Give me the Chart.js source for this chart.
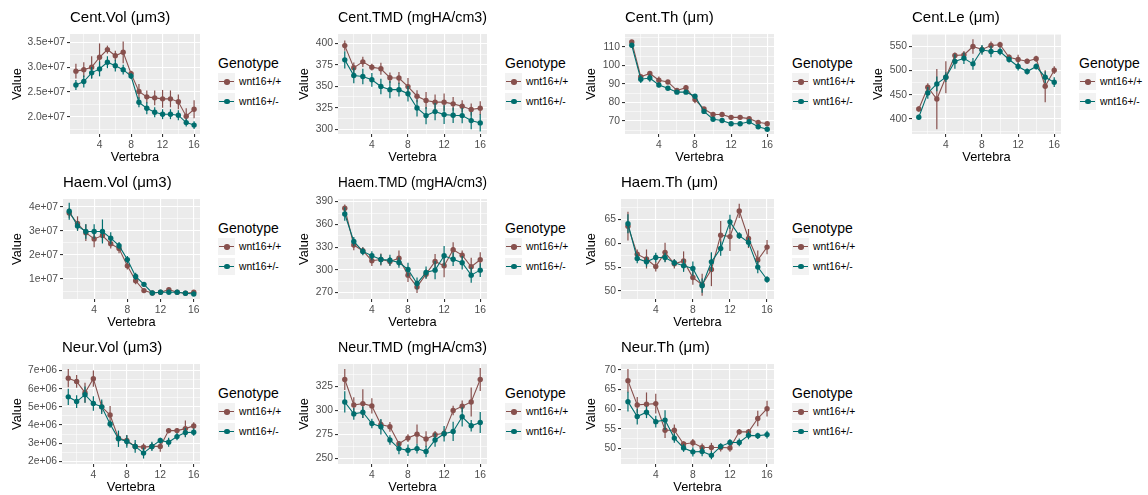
<!DOCTYPE html>
<html>
<head>
<meta charset="utf-8">
<script src="https://cdn.jsdelivr.net/npm/chart.js@4.4.1/dist/chart.umd.min.js"></script>
<style>
body{margin:0;background:#fff;width:1148px;height:495px;overflow:hidden;position:relative;font-family:"Liberation Sans",Arial,sans-serif;}
.panel{position:absolute;width:287px;height:165px;}
.panel canvas{position:absolute;left:0;top:0;}
.legend{position:absolute;left:218px;top:54px;}
.ltitle{font-size:14px;color:#000;height:18px;line-height:18px;}
.item{height:19.5px;display:flex;align-items:center;font-size:10.3px;color:#000;}
.key{position:relative;width:17px;height:17px;background:#F2F2F2;margin-right:4px;}
.key .ln{position:absolute;left:1px;right:1px;top:8px;height:1.1px;}
.key .dot{position:absolute;left:6px;top:6px;width:5.5px;height:5.5px;border-radius:50%;}
</style>
</head>
<body>
<script>
/* ================= DATA ================= */

const vertebra = [1,2,3,4,5,6,7,8,9,10,11,12,13,14,15,16];
const genotypes = ["wnt16+/+","wnt16+/-"];
const genoColors = ["#87504D","#006E6E"];

// Cent.Vol
const centVolWt = [2.92e7,2.95e7,3.0e7,3.2e7,3.355e7,3.23e7,3.30e7,2.87e7,2.51e7,2.40e7,2.38e7,2.36e7,2.36e7,2.30e7,2.01e7,2.15e7];
const centVolWtSe = [0.15e7,0.15e7,0.22e7,0.28e7,0.08e7,0.10e7,0.22e7,0.06e7,0.15e7,0.13e7,0.15e7,0.18e7,0.17e7,0.15e7,0.16e7,0.18e7];
const centVolHet = [2.64e7,2.71e7,2.885e7,2.965e7,3.10e7,3.03e7,2.95e7,2.82e7,2.29e7,2.17e7,2.09e7,2.05e7,2.05e7,2.03e7,1.88e7,1.83e7];
const centVolHetSe = [0.10e7,0.12e7,0.12e7,0.15e7,0.12e7,0.12e7,0.10e7,0.06e7,0.10e7,0.12e7,0.10e7,0.10e7,0.10e7,0.10e7,0.08e7,0.08e7];
const centVolTicks = [2.0e7,2.5e7,3.0e7,3.5e7];

// Cent.TMD
const centTmdWt = [397.3,371.5,378.4,372.2,370.3,359.9,359.5,349.6,338.4,333.4,331.5,331.5,329.5,326.8,323,324.5];
const centTmdWtSe = [6,6,6,4,7,6,7,10,7,10,9,10,8,7,7,8];
const centTmdHet = [380.7,362.5,361.4,357.5,349.8,346,346,341.3,324.7,315.8,320.5,317,316.2,315.8,310,307.3];
const centTmdHetSe = [10,9,9,8,9,10,8,9,10,10,10,11,9,9,10,10];
const centTmdTicks = [300,325,350,375,400];

// Cent.Th
const centThWt = [112.7,93.9,95.7,92,91.1,86.5,88,81.6,76.5,73.5,73.5,72,72,71.3,69.3,68.5];
const centThWtSe = [1,1,1,2,1,1,1.5,2,1,1,1,1,1,1,1,1];
const centThHet = [110.9,92.6,93.2,89.5,87.7,85.6,85.6,83.4,75.2,71,70.3,68.5,68.5,69.6,66.9,65.6];
const centThHetSe = [1,2,2,1.2,1,1,1,1,1,1,1,1,1,1,1,1];
const centThTicks = [70,80,90,100,110];

// Cent.Le
const centLeWt = [420.6,465.3,441,486,530.7,532,549.3,543,551.4,552.8,527,522.5,519,524,467.4,500.5];
const centLeWtSe = [5,8,62,33,6,8,15,8,8,6,6,10,5,6,33,8];
const centLeHet = [403.4,453.6,472.2,486,518.3,525,513.5,542.4,539,539,522.5,508,497.7,508,486,475.7];
const centLeHetSe = [5,12,15,10,15,12,12,10,12,8,6,8,6,6,12,10];
const centLeTicks = [400,450,500,550];

// Haem.Vol
const haemVolWt = [3.75e7,3.31e7,2.93e7,2.67e7,2.81e7,2.47e7,2.27e7,1.55e7,0.93e7,0.52e7,0.42e7,0.45e7,0.56e7,0.45e7,0.41e7,0.45e7];
const haemVolWtSe = [0.2e7,0.3e7,0.35e7,0.35e7,0.25e7,0.2e7,0.2e7,0.15e7,0.15e7,0.05e7,0.05e7,0.05e7,0.05e7,0.05e7,0.05e7,0.05e7];
const haemVolHet = [3.82e7,3.21e7,2.98e7,2.98e7,2.98e7,2.70e7,2.39e7,1.81e7,1.11e7,0.78e7,0.42e7,0.45e7,0.45e7,0.45e7,0.41e7,0.38e7];
const haemVolHetSe = [0.35e7,0.2e7,0.3e7,0.3e7,0.5e7,0.25e7,0.15e7,0.15e7,0.15e7,0.1e7,0.05e7,0.05e7,0.05e7,0.05e7,0.05e7,0.05e7];
const haemVolTicks = [1e7,2e7,3e7,4e7];

// Haem.TMD
const haemTmdWt = [381.2,332.7,325.2,312,313.7,311,315.4,293,277.5,294.3,311,305.3,326.5,319.4,304,313.3];
const haemTmdWtSe = [5,7,5,7,8,6,10,9,8,6,10,15,10,6,12,10];
const haemTmdHet = [373.7,337.5,324.3,318.5,313.7,312.8,309.7,300.5,282,296.5,299.6,318.5,314,309.3,293,299.6];
const haemTmdHetSe = [9,6,5,6,7,7,7,9,8,8,12,13,9,9,10,9];
const haemTmdTicks = [270,300,330,360,390];

// Haem.Th
const haemThWt = [63.6,57.7,56.7,55.1,58.1,55.7,56.3,52.8,51.3,54.5,61.7,61.4,66.8,61.0,56.5,59.2];
const haemThWtSe = [3,1,2,1,2,1,2,1.5,2.3,3.5,3,3,1.5,2,2,1.5];
const haemThHet = [64.1,56.8,56.1,57.0,57.0,55.9,55.3,54.7,51.1,56.1,58.9,64.5,61.6,60.2,55.0,52.4];
const haemThHetSe = [2,1,1,1,1,0.7,1.3,1.5,1.5,2,1.5,1.5,0.7,1,1.3,0.7];
const haemThTicks = [50,55,60,65];

// Neur.Vol
const neurVolWt = [6.58e6,6.40e6,5.78e6,6.55e6,5.0e6,4.55e6,3.27e6,3.15e6,2.82e6,2.78e6,2.82e6,2.82e6,3.69e6,3.69e6,3.80e6,3.95e6];
const neurVolWtSe = [0.5e6,0.35e6,0.55e6,0.45e6,0.3e6,0.5e6,0.3e6,0.3e6,0.2e6,0.2e6,0.2e6,0.3e6,0.15e6,0.15e6,0.45e6,0.2e6];
const neurVolHet = [5.55e6,5.29e6,5.67e6,5.18e6,5.0e6,4.05e6,3.24e6,3.09e6,2.82e6,2.45e6,2.82e6,3.15e6,3.05e6,3.36e6,3.58e6,3.60e6];
const neurVolHetSe = [0.45e6,0.35e6,0.45e6,0.4e6,0.4e6,0.2e6,0.45e6,0.35e6,0.35e6,0.3e6,0.25e6,0.15e6,0.25e6,0.2e6,0.25e6,0.2e6];
const neurVolTicks = [2e6,3e6,4e6,5e6,6e6,7e6];

// Neur.TMD
const neurTmdWt = [331.9,305.5,306.9,304.5,285.2,282.8,265.2,271.1,275.2,270.1,274.5,276.0,299.7,304.1,308.6,331.9];
const neurTmdWtSe = [11,8,15,8,5,5,3,4,10,8,4,4,5,6,15,12];
const neurTmdHet = [308.6,296.2,297.9,286.2,282.8,269.1,260.2,258.4,260.2,257.1,269.1,275.6,278.0,293.2,283.9,287.3];
const neurTmdHetSe = [11,6,6,5,8,5,6,6,5,6,7,8,10,10,6,11];
const neurTmdTicks = [250,275,300,325];

// Neur.Th
const neurThWt = [67.25,61.07,61.24,61.4,54.6,54.6,51.1,51.4,50.2,50.2,50.2,50.1,54.2,54.2,57.6,60.1];
const neurThWtSe = [3,2,3,2.5,2,1.5,0.7,1,1,1.2,1,1,0.7,0.7,2,2];
const neurThHet = [61.9,58.1,59.2,56.8,57.2,52.6,50.1,49.1,49.2,48.2,50.5,51.5,51.5,53.3,53.2,53.5];
const neurThHetSe = [2.5,2,1.5,1.5,2.5,1.2,1,1.2,1.2,1,0.7,0.8,1,1,0.8,1];
const neurThTicks = [50,55,60,65,70];

/* ================= PANELS ================= */

const panels = [
{title:"Cent.Vol (μm3)", wt:centVolWt, wtSe:centVolWtSe, het:centVolHet, hetSe:centVolHetSe, ticks:centVolTicks, sci:1, min:1.65e7, max:3.67e7, row:0, col:0, left:70},
{title:"Cent.TMD (mgHA/cm3)", wt:centTmdWt, wtSe:centTmdWtSe, het:centTmdHet, hetSe:centTmdHetSe, ticks:centTmdTicks, min:294.4, max:410.8, row:0, col:1, left:51},
{title:"Cent.Th (μm)", wt:centThWt, wtSe:centThWtSe, het:centThHet, hetSe:centThHetSe, ticks:centThTicks, min:63, max:117, row:0, col:2, left:51},
{title:"Cent.Le (μm)", wt:centLeWt, wtSe:centLeWtSe, het:centLeHet, hetSe:centLeHetSe, ticks:centLeTicks, min:369, max:575, row:0, col:3, left:51},
{title:"Haem.Vol (μm3)", wt:haemVolWt, wtSe:haemVolWtSe, het:haemVolHet, hetSe:haemVolHetSe, ticks:haemVolTicks, sci:0, min:0.17e7, max:4.33e7, row:1, col:0, left:63},
{title:"Haem.TMD (mgHA/cm3)", wt:haemTmdWt, wtSe:haemTmdWtSe, het:haemTmdHet, hetSe:haemTmdHetSe, ticks:haemTmdTicks, min:261.5, max:393.5, row:1, col:1, left:51},
{title:"Haem.Th (μm)", wt:haemThWt, wtSe:haemThWtSe, het:haemThHet, hetSe:haemThHetSe, ticks:haemThTicks, min:48.3, max:69.3, row:1, col:2, left:47},
{title:"Neur.Vol (μm3)", wt:neurVolWt, wtSe:neurVolWtSe, het:neurVolHet, hetSe:neurVolHetSe, ticks:neurVolTicks, sci:0, min:1.85e6, max:7.36e6, row:2, col:0, left:62},
{title:"Neur.TMD (mgHA/cm3)", wt:neurTmdWt, wtSe:neurTmdWtSe, het:neurTmdHet, hetSe:neurTmdHetSe, ticks:neurTmdTicks, min:244.2, max:348, row:2, col:1, left:51},
{title:"Neur.Th (μm)", wt:neurThWt, wtSe:neurThWtSe, het:neurThHet, hetSe:neurThHetSe, ticks:neurThTicks, min:46, max:71.5, row:2, col:2, left:47}
];

/* ================= PLUGINS ================= */

const panelBg = {
id:"panelBg",
beforeDraw(chart){
let a = chart.chartArea;
let ctx = chart.ctx;
ctx.save();
ctx.fillStyle = "#EBEBEB";
ctx.fillRect(a.left,a.top,a.width,a.height);
ctx.restore();
}
};

const errorBars = {
id:"errorBars",
afterDatasetDraw(chart,args){
let ds = chart.data.datasets[args.index];
if(!ds.errors) return;
let ctx = chart.ctx;
let x = chart.scales.x;
let y = chart.scales.y;
ctx.save();
ctx.strokeStyle = ds.borderColor;
ctx.lineWidth = 1.2;
ds.data.forEach((p,i)=>{
let px = x.getPixelForValue(p.x);
ctx.beginPath();
ctx.moveTo(px,y.getPixelForValue(p.y - ds.errors[i]));
ctx.lineTo(px,y.getPixelForValue(p.y + ds.errors[i]));
ctx.stroke();
});
ctx.restore();
}
};

/* ================= BUILD ================= */

const FONT = "'Liberation Sans', Arial, sans-serif";

function fmt(p,v){
if(p.sci === undefined) return String(v);
return v.toExponential(p.sci).replace(/e\+(\d)$/,"e+0$1");
}

function makeLegend(){
let html = '<div class="legend"><div class="ltitle">Genotype</div>';
genotypes.forEach((g,i)=>{
html += `<div class="item"><span class="key"><i class="ln" style="background:${genoColors[i]}"></i><i class="dot" style="background:${genoColors[i]}"></i></span>${g}</div>`;
});
return html + "</div>";
}

panels.forEach(p=>{

let div = document.createElement("div");
div.className = "panel";
div.style.left = (p.col*287) + "px";
div.style.top = (p.row*165) + "px";
div.innerHTML = '<canvas width="204" height="165"></canvas>' + makeLegend();
document.body.appendChild(div);

let step = p.ticks[1] - p.ticks[0];
let yAll = [];
for(let v = p.ticks[0] - step; v <= p.max + 1e-9*Math.abs(p.max); v += step/2){
if(v >= p.min) yAll.push(v);
}
let isMajorY = v => p.ticks.some(t => Math.abs(t - v) < step*1e-6);

let series = [p.wt,p.het];
let errs = [p.wtSe,p.hetSe];

new Chart(div.querySelector("canvas"),{
type:"line",
data:{
datasets:genotypes.map((g,i)=>({
label:g,
data:vertebra.map((v,j)=>({x:v,y:series[i][j]})),
errors:errs[i],
borderColor:genoColors[i],
backgroundColor:genoColors[i],
borderWidth:1.1,
pointRadius:2.7,
pointHoverRadius:2.7,
pointBorderWidth:0,
order:1-i
}))
},
options:{
responsive:false,
animation:false,
events:[],
layout:{padding:{left:0,right:4,top:0,bottom:0}},
plugins:{
legend:{display:false},
tooltip:{enabled:false},
title:{
display:true,
text:p.title,
align:"start",
fullSize:false,
color:"#000",
font:{family:FONT,size:15,weight:"normal",lineHeight:1.2},
padding:{top:9,bottom:7}
}
},
scales:{
x:{
type:"linear",
min:0.25,
max:16.75,
afterBuildTicks:s=>{ s.ticks = [2,4,6,8,10,12,14,16].map(v=>({value:v})); },
afterFit:s=>{ s.height = 31; },
border:{display:false},
grid:{
color:"#FFFFFF",
lineWidth:c=>c.tick && c.tick.value % 4 === 0 ? 1.1 : 0.55,
tickColor:c=>c.tick && c.tick.value % 4 === 0 ? "#333333" : "rgba(0,0,0,0)",
tickLength:3
},
ticks:{
autoSkip:false,
maxRotation:0,
padding:2,
color:"#4D4D4D",
font:{family:FONT,size:10.3},
callback:v => v % 4 === 0 ? String(v) : ""
},
title:{
display:true,
text:"Vertebra",
color:"#000",
font:{family:FONT,size:12.8},
padding:{top:0,bottom:0}
}
},
y:{
type:"linear",
min:p.min,
max:p.max,
afterBuildTicks:s=>{ s.ticks = yAll.map(v=>({value:v})); },
afterFit:s=>{ s.width = p.left; },
border:{display:false},
grid:{
color:"#FFFFFF",
lineWidth:c=>c.tick && isMajorY(c.tick.value) ? 1.1 : 0.55,
tickColor:c=>c.tick && isMajorY(c.tick.value) ? "#333333" : "rgba(0,0,0,0)",
tickLength:3
},
ticks:{
autoSkip:false,
padding:2,
color:"#4D4D4D",
font:{family:FONT,size:10.3},
callback:v => isMajorY(v) ? fmt(p,v) : ""
},
title:{
display:true,
text:"Value",
color:"#000",
font:{family:FONT,size:12.8},
padding:{top:10,bottom:0}
}
}
}
},
plugins:[panelBg,errorBars]
});

});
</script>
</body>
</html>
